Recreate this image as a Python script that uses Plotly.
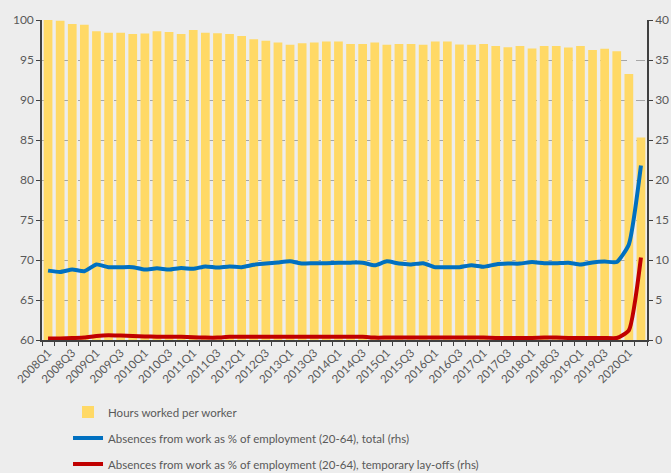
import plotly.graph_objects as go

quarters = [
    "2008Q1", "2008Q2", "2008Q3", "2008Q4", "2009Q1", "2009Q2", "2009Q3", "2009Q4",
    "2010Q1", "2010Q2", "2010Q3", "2010Q4", "2011Q1", "2011Q2", "2011Q3", "2011Q4",
    "2012Q1", "2012Q2", "2012Q3", "2012Q4", "2013Q1", "2013Q2", "2013Q3", "2013Q4",
    "2014Q1", "2014Q2", "2014Q3", "2014Q4", "2015Q1", "2015Q2", "2015Q3", "2015Q4",
    "2016Q1", "2016Q2", "2016Q3", "2016Q4", "2017Q1", "2017Q2", "2017Q3", "2017Q4",
    "2018Q1", "2018Q2", "2018Q3", "2018Q4", "2019Q1", "2019Q2", "2019Q3", "2019Q4",
    "2020Q1", "2020Q2",
]

hours_worked = [
    100.0, 99.9, 99.5, 99.4, 98.6, 98.4, 98.4, 98.25, 98.3, 98.6,
    98.5, 98.25, 98.75, 98.4, 98.35, 98.25, 98.0, 97.6, 97.4, 97.2,
    96.9, 97.1, 97.2, 97.3, 97.3, 97.0, 97.0, 97.2, 96.9, 97.0,
    97.0, 96.9, 97.3, 97.3, 96.95, 96.9, 97.0, 96.75, 96.6, 96.75,
    96.45, 96.75, 96.75, 96.55, 96.75, 96.25, 96.4, 96.1, 93.25, 85.3,
]

absences_total = [
    8.67, 8.5, 8.8, 8.6, 9.45, 9.1, 9.1, 9.1, 8.8, 8.96,
    8.8, 9.0, 8.9, 9.2, 9.05, 9.2, 9.1, 9.4, 9.55, 9.7,
    9.83, 9.55, 9.6, 9.6, 9.65, 9.67, 9.67, 9.33, 9.83, 9.55,
    9.45, 9.6, 9.1, 9.1, 9.1, 9.35, 9.15, 9.45, 9.55, 9.55,
    9.75, 9.6, 9.6, 9.67, 9.45, 9.7, 9.8, 9.75, 11.95, 21.8,
]

absences_layoffs = [
    0.2, 0.2, 0.25, 0.3, 0.5, 0.6, 0.55, 0.5, 0.45, 0.4,
    0.4, 0.4, 0.35, 0.3, 0.3, 0.4, 0.4, 0.4, 0.4, 0.4,
    0.4, 0.4, 0.4, 0.4, 0.4, 0.4, 0.4, 0.3, 0.3, 0.3,
    0.3, 0.3, 0.3, 0.3, 0.3, 0.3, 0.3, 0.25, 0.25, 0.25,
    0.25, 0.3, 0.3, 0.25, 0.25, 0.25, 0.25, 0.25, 1.2, 10.3,
]

tick_text = [q if i % 2 == 0 else "" for i, q in enumerate(quarters)]

FONT = "Lato, Carlito, 'Liberation Sans', sans-serif"
GRAY = "#595959"
AXIS = "#404040"
BG = "#EDEDED"

fig = go.Figure()
fig.add_trace(go.Bar(
    x=quarters, y=hours_worked, name="Hours worked per worker",
    marker=dict(color="#FFD966", line=dict(width=0)),
    legendgroup="a",
))
fig.add_trace(go.Scatter(
    x=quarters, y=absences_total, yaxis="y2", mode="lines",
    name="Absences from work as % of employment (20-64), total (rhs)",
    line=dict(color="#0070C0", width=4, shape="spline", smoothing=0.5),
    legendgroup="b",
))
fig.add_trace(go.Scatter(
    x=quarters, y=absences_layoffs, yaxis="y2", mode="lines",
    name="Absences from work as % of employment (20-64), temporary lay-offs (rhs)",
    line=dict(color="#C00000", width=4, shape="spline", smoothing=0.5),
    legendgroup="c",
))

fig.update_layout(
    width=671, height=473, autosize=False,
    margin=dict(l=42, r=24, t=20, b=133, autoexpand=False),
    paper_bgcolor=BG, plot_bgcolor=BG,
    font=dict(family=FONT, size=12, color=GRAY),
    bargap=0.28,
    showlegend=True,
    legend=dict(
        x=0.043, y=-0.18, xanchor="left", yanchor="top",
        orientation="v", bgcolor="rgba(0,0,0,0)",
        font=dict(family=FONT, size=11.5, color=GRAY),
        tracegroupgap=7, traceorder="grouped",
    ),
    xaxis=dict(
        type="category", automargin=False,
        tickmode="array", tickvals=quarters, ticktext=tick_text,
        tickangle=-45, tickson="boundaries",
        ticks="outside", ticklen=4, tickcolor=AXIS,
        showline=True, linecolor=AXIS, linewidth=1.5,
        showgrid=False, tickfont=dict(size=11.5, color=GRAY),
    ),
    yaxis=dict(
        range=[60, 100], tickmode="linear", tick0=60, dtick=5, automargin=False,
        ticks="outside", ticklen=4, tickcolor=AXIS,
        showline=True, linecolor=AXIS, linewidth=1.5,
        showgrid=True, gridcolor="#A6A6A6", griddash="dash", gridwidth=1,
        zeroline=False, tickfont=dict(size=12, color=GRAY),
    ),
    yaxis2=dict(
        range=[0, 40], tickmode="linear", tick0=0, dtick=5, automargin=False,
        overlaying="y", side="right",
        ticks="outside", ticklen=4, tickcolor=AXIS,
        showline=True, linecolor=AXIS, linewidth=1.5,
        showgrid=False, zeroline=False, tickfont=dict(size=12, color=GRAY),
    ),
)

fig.write_html(
    "out.html",
    config={"responsive": False, "displayModeBar": False},
    post_script=(
        "document.body.style.margin='0';"
        "document.body.style.background='#EDEDED';"
        "document.body.style.overflow='hidden';"
        "document.documentElement.style.overflow='hidden';"
    ),
)
